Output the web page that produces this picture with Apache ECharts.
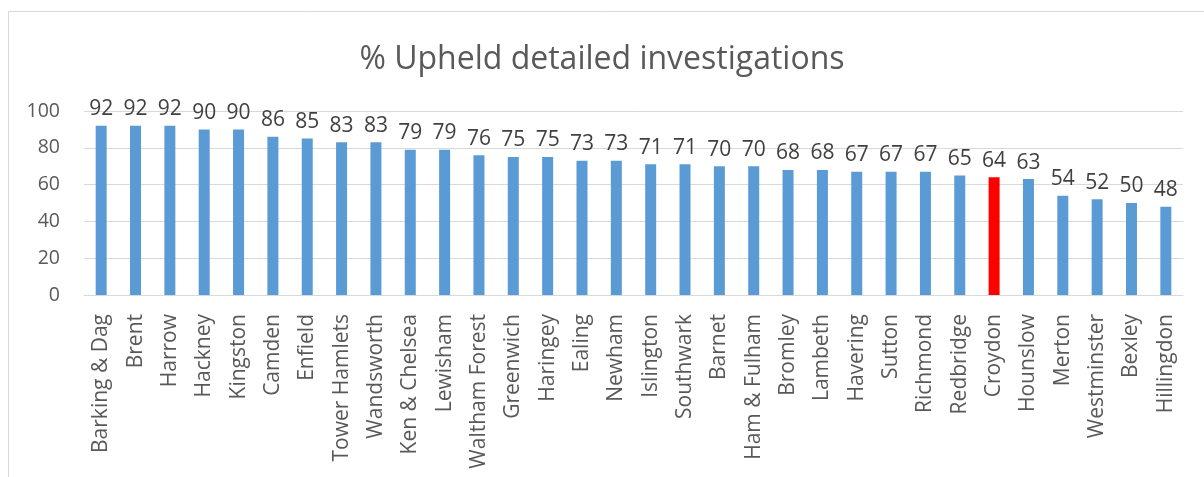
<!DOCTYPE html>
<html>
<head>
<meta charset="utf-8">
<script src="https://cdn.jsdelivr.net/npm/echarts@6/dist/echarts.min.js"></script>
<style>
html,body{margin:0;padding:0;background:#fff;}
#chart{width:1204px;height:477px;}
</style>
</head>
<body>
<div id="chart"></div>
<script>
var boroughs = ['Barking & Dag','Brent','Harrow','Hackney','Kingston','Camden','Enfield','Tower Hamlets','Wandsworth','Ken & Chelsea','Lewisham','Waltham Forest','Greenwich','Haringey','Ealing','Newham','Islington','Southwark','Barnet','Ham & Fulham','Bromley','Lambeth','Havering','Sutton','Richmond','Redbridge','Croydon','Hounslow','Merton','Westminster','Bexley','Hillingdon'];
var upheld = [92,92,92,90,90,86,85,83,83,79,79,76,75,75,73,73,71,71,70,70,68,68,67,67,67,65,64,63,54,52,50,48];
var highlight = 'Croydon';
var yTicks = [0,20,40,60,80,100];

var font = '"Open Sans", sans-serif';
var chart = echarts.init(document.getElementById('chart'));

var barData = [];
for (var i = 0; i < upheld.length; i++) {
    barData.push({
        value: upheld[i],
        itemStyle: {color: boroughs[i] == highlight ? '#FF0000' : '#5B9BD5'}
    });
}

var option = {
    animation: false,
    title: {
        text: '% Upheld detailed investigations',
        left: 'center',
        top: 39,
        textStyle: {fontFamily: font, fontSize: 32, fontWeight: 'normal', color: '#595959'}
    },
    graphic: [{
        type: 'rect',
        shape: {x: 8.5, y: 11.5, width: 1400, height: 1000},
        style: {fill: 'none', stroke: '#D9D9D9', lineWidth: 1},
        silent: true
    }],
    grid: {left: 84, right: 21, top: 111, bottom: 182},
    xAxis: {
        type: 'category',
        data: boroughs,
        axisLine: {lineStyle: {color: '#D9D9D9', width: 1}},
        axisTick: {show: false},
        axisLabel: {
            rotate: 90,
            interval: 0,
            margin: 19,
            color: '#595959',
            fontFamily: font,
            fontSize: 21
        }
    },
    yAxis: {
        type: 'value',
        min: yTicks[0],
        max: yTicks[yTicks.length - 1],
        interval: 20,
        axisLine: {show: false},
        axisTick: {show: false},
        splitLine: {lineStyle: {color: '#D9D9D9', width: 1}},
        axisLabel: {
            margin: 24,
            color: '#595959',
            fontFamily: font,
            fontSize: 19.5
        }
    },
    series: [{
        type: 'bar',
        data: barData,
        barWidth: 11,
        label: {
            show: true,
            position: 'top',
            distance: 6,
            color: '#404040',
            fontFamily: font,
            fontSize: 21
        }
    }]
};

chart.setOption(option);
</script>
</body>
</html>
